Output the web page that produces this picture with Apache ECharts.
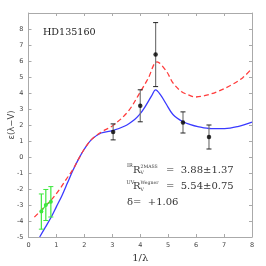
<!DOCTYPE html>
<html><head><meta charset="utf-8">
<script src="https://cdn.jsdelivr.net/npm/echarts@6/dist/echarts.min.js"></script>
<style>html,body{margin:0;padding:0;background:#fff}#c{width:266px;height:266px}</style>
</head><body><div id="c"></div>
<script>
// UV photometric points
const uvX = [3.03, 4.0, 4.55, 5.53, 6.46];
const uvY = [1.57, 3.2, 6.4, 2.16, 1.25];
const uvErr = [0.5, 1.0, 2.0, 0.66, 0.75];
// IR (2MASS) points
const irX = [0.46, 0.62, 0.80];
const irY = [-3.41, -3.0, -2.8];
const irErr = [1.1, 0.97, 0.95];
// blue curve (solid)
const blueX = [0.4,0.6,0.8,1.0,1.2,1.4,1.6,1.8,2.0,2.26,2.6,3.0,3.45,3.8,3.98,4.16,4.4,4.55,4.72,4.94,5.17,5.53,5.77,6.06,6.54,7.02,7.49,8.0];
const blueY = [-5.0,-4.4,-3.8,-3.1,-2.4,-1.6,-0.8,-0.1,0.5,1.1,1.5,1.65,1.94,2.35,2.66,3.1,3.8,4.2,3.9,3.28,2.66,2.2,2.04,1.9,1.77,1.77,1.9,2.18];
// red curve (dashed)
const redX = [0.21,0.47,0.83,1.12,1.35,1.6,1.8,2.0,2.26,2.6,3.05,3.57,3.98,4.28,4.6,4.94,5.17,5.47,5.77,5.95,6.3,6.78,7.26,7.67,8.0];
const redY = [-3.76,-3.3,-2.65,-2.0,-1.4,-0.75,-0.1,0.5,1.1,1.55,2.0,2.86,4.0,4.9,5.95,5.35,4.63,4.1,3.85,3.75,3.83,4.1,4.5,4.96,5.54];
// axis ticks
const xMin = 0, xMax = 8, xStep = 1;
const yMin = -5, yMax = 9, yStep = 1;
const starName = 'HD135160';
const irText = '3.88±1.37';
const uvText = '5.54±0.75';
const deltaText = '+1.06';

const zip = (a, b) => a.map((v, i) => [v, b[i]]);
const errData = (x, y, e) => x.map((v, i) => [v, y[i] - e[i], y[i] + e[i]]);

function errRender(barColor, capColor) {
  return function (params, api) {
    const x = api.value(0);
    const lo = api.coord([x, api.value(1)]);
    const hi = api.coord([x, api.value(2)]);
    const w = 2.5;
    return {
      type: 'group',
      children: [
        {type: 'line', shape: {x1: lo[0], y1: lo[1], x2: hi[0], y2: hi[1]}, style: {stroke: barColor, lineWidth: 1.2}},
        {type: 'line', shape: {x1: lo[0] - w, y1: lo[1], x2: lo[0] + w, y2: lo[1]}, style: {stroke: capColor, lineWidth: 1}},
        {type: 'line', shape: {x1: hi[0] - w, y1: hi[1], x2: hi[0] + w, y2: hi[1]}, style: {stroke: capColor, lineWidth: 1}}
      ]
    };
  };
}

const axisCol = '#aaa';
const labelStyle = {fontSize: 6.5, color: '#444', fontFamily: 'DejaVu Sans'};
const tickIn = {show: true, inside: true, length: 3, lineStyle: {color: axisCol}};

const chart = echarts.init(document.getElementById('c'), null, {renderer: 'canvas'});
chart.setOption({
  animation: false,
  grid: {left: 28.5, right: 14, top: 13, bottom: 29, containLabel: false, outerBoundsMode: 'none'},
  xAxis: [
    {type: 'value', min: xMin, max: xMax, interval: xStep, position: 'bottom',
     axisLine: {show: true, onZero: false, lineStyle: {color: axisCol}}, axisTick: tickIn,
     splitLine: {show: false}, axisLabel: Object.assign({margin: 5}, labelStyle),
     name: '1/λ', nameLocation: 'middle', nameGap: 16, nameMoveOverlap: false,
     nameTextStyle: {fontFamily: 'DejaVu Serif', fontSize: 10, color: '#333'}},
    {type: 'value', min: xMin, max: xMax, interval: xStep, position: 'top',
     axisLine: {show: true, onZero: false, lineStyle: {color: axisCol}}, axisTick: tickIn,
     splitLine: {show: false}, axisLabel: {show: false}}
  ],
  yAxis: [
    {type: 'value', min: yMin, max: yMax, interval: yStep, position: 'left',
     axisLine: {show: true, onZero: false, lineStyle: {color: axisCol}}, axisTick: tickIn,
     splitLine: {show: false}, axisLabel: Object.assign({margin: 5, showMaxLabel: false}, labelStyle),
     name: 'ε(λ−V)', nameLocation: 'middle', nameGap: 12, nameRotate: 90, nameMoveOverlap: false,
     nameTextStyle: {fontFamily: 'DejaVu Sans', fontSize: 8.5, color: '#444'}},
    {type: 'value', min: yMin, max: yMax, interval: yStep, position: 'right',
     axisLine: {show: true, onZero: false, lineStyle: {color: axisCol}}, axisTick: tickIn,
     splitLine: {show: false}, axisLabel: {show: false}}
  ],
  series: [
    {type: 'line', data: zip(blueX, blueY), smooth: 0.35, showSymbol: false,
     lineStyle: {color: '#3a3aff', width: 1.3}, z: 3},
    {type: 'line', data: zip(redX, redY), smooth: 0.35, showSymbol: false,
     lineStyle: {color: '#ff3b3b', width: 1.3, type: [5, 3]}, z: 3},
    {type: 'custom', data: errData(uvX, uvY, uvErr), renderItem: errRender('#777', '#222'), z: 4},
    {type: 'scatter', data: zip(uvX, uvY), symbolSize: 4.5, itemStyle: {color: '#000'}, z: 5},
    {type: 'custom', data: errData(irX, irY, irErr), renderItem: errRender('#3ee83e', '#3ee83e'), z: 4},
    {type: 'line', data: zip(irX, irY), showSymbol: true, symbol: 'circle', symbolSize: 4,
     lineStyle: {color: '#3ee83e', width: 1.2}, itemStyle: {color: '#3ee83e'}, z: 5}
  ],
  graphic: [
    {type: 'text', left: 43, top: 27, style: {text: starName, font: '9.6px "DejaVu Serif"', fill: '#222'}},
    // IR line
    {type: 'text', x: 127, y: 163.5, style: {text: 'IR', font: '5px "DejaVu Serif"', fill: '#333'}},
    {type: 'text', x: 133, y: 165, style: {text: 'R', font: '10px "DejaVu Serif"', fill: '#333'}},
    {type: 'text', x: 140.5, y: 164, style: {text: '2MASS', font: '4.6px "DejaVu Serif"', fill: '#333'}},
    {type: 'text', x: 140.5, y: 170.5, style: {text: 'V', font: '4.6px "DejaVu Serif"', fill: '#333'}},
    {type: 'text', x: 166, y: 165, style: {text: '=  ' + irText, font: '10px "DejaVu Serif"', fill: '#333'}},
    // UV line
    {type: 'text', x: 126.5, y: 180, style: {text: 'UV', font: '5px "DejaVu Serif"', fill: '#333'}},
    {type: 'text', x: 133, y: 181.5, style: {text: 'R', font: '10px "DejaVu Serif"', fill: '#333'}},
    {type: 'text', x: 140.5, y: 180.5, style: {text: 'Wegner', font: '4.6px "DejaVu Serif"', fill: '#333'}},
    {type: 'text', x: 140.5, y: 187, style: {text: 'V', font: '4.6px "DejaVu Serif"', fill: '#333'}},
    {type: 'text', x: 166, y: 181.5, style: {text: '=  ' + uvText, font: '10px "DejaVu Serif"', fill: '#333'}},
    // delta line
    {type: 'text', x: 127, y: 197.5, style: {text: 'δ=  ' + deltaText, font: '10px "DejaVu Serif"', fill: '#333'}}
  ]
});
</script>
</body></html>
